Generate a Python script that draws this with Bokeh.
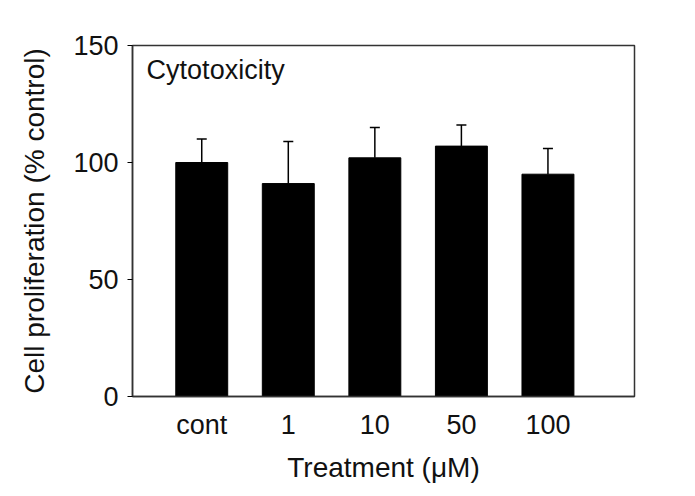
from bokeh.plotting import figure
from bokeh.models import Range1d, FixedTicker, Whisker, ColumnDataSource, TeeHead, Label
from bokeh.embed import file_html
from bokeh.resources import INLINE

categories = ["cont", "1", "10", "50", "100"]
values = [100, 91, 102, 107, 95]
errors = [10, 18, 13, 9, 11]
y_ticks = [0, 50, 100, 150]

xpos = list(range(len(categories)))
upper = [v + e for v, e in zip(values, errors)]
src = ColumnDataSource(dict(x=xpos, top=values, upper=upper))

FONT = "Liberation Sans"

p = figure(width=695, height=496, output_backend="svg", toolbar_location=None,
           x_range=Range1d(-0.8, 5.0), y_range=Range1d(0, 150),
           min_border_left=132, min_border_right=61, min_border_top=45, min_border_bottom=100)
p.outline_line_color = "#333333"
p.outline_line_width = 1.5
p.xgrid.visible = False
p.ygrid.visible = False
p.background_fill_color = "white"

p.vbar(x="x", top="top", width=0.6, bottom=0, source=src, fill_color="black", line_color="black")

w = Whisker(base="x", lower="top", upper="upper", source=src,
            line_color="black", line_width=1.5,
            upper_head=TeeHead(size=10, line_color="black", line_width=1.5),
            lower_head=None)
p.add_layout(w)

p.xaxis.ticker = FixedTicker(ticks=xpos)
p.xaxis.major_label_overrides = {i: c for i, c in zip(xpos, categories)}
p.xaxis.major_tick_line_color = None
p.xaxis.minor_tick_line_color = None
p.xaxis.axis_line_color = "#333333"
p.xaxis.axis_line_width = 1.5
p.xaxis.axis_label = "Treatment (μM)"
p.xaxis.major_label_standoff = 7
p.xaxis.axis_label_standoff = 9

p.yaxis.ticker = FixedTicker(ticks=y_ticks)
p.yaxis.minor_tick_line_color = None
p.yaxis.major_tick_out = 5
p.yaxis.major_tick_in = 0
p.yaxis.axis_line_color = "#333333"
p.yaxis.axis_line_width = 1.5
p.yaxis.axis_label = "Cell proliferation (% control)"
p.yaxis.major_label_standoff = 9
p.yaxis.axis_label_standoff = 20

for ax in (p.xaxis, p.yaxis):
    ax.major_label_text_font = FONT
    ax.major_label_text_font_size = "27px"
    ax.major_label_text_color = "#111111"
    ax.axis_label_text_font = FONT
    ax.axis_label_text_font_size = "28px"
    ax.axis_label_text_font_style = "normal"
    ax.axis_label_text_color = "#111111"

title = Label(x=-0.637, y=146, text="Cytotoxicity", text_font=FONT, text_font_size="27px",
              text_baseline="top", text_color="#111111")
p.add_layout(title)

open("out.html", "w").write(file_html(p, INLINE))
